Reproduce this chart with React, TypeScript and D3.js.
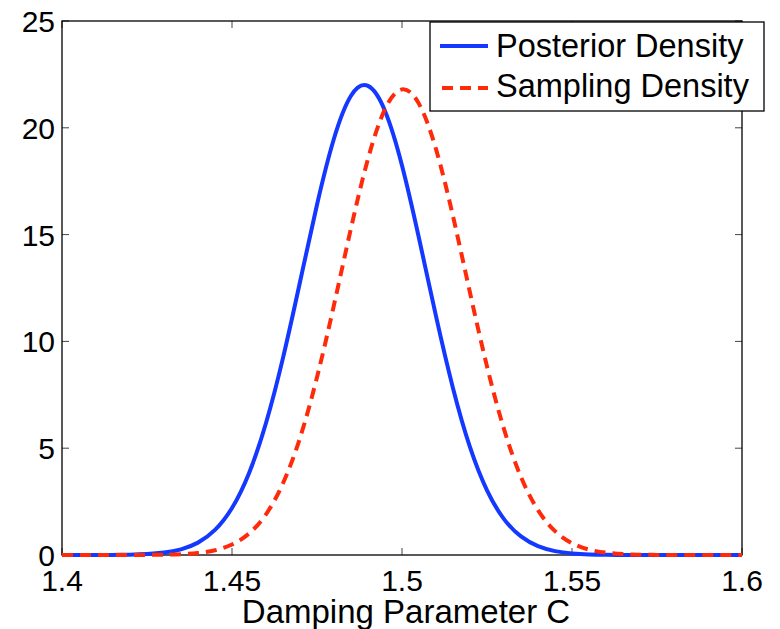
import React from "react";
import * as d3 from "d3";

const xValues: number[] = [
  1.4, 1.405, 1.41, 1.415, 1.42, 1.425, 1.43, 1.435, 1.44, 1.445, 1.45, 1.455, 1.46, 1.465,
  1.47, 1.475, 1.48, 1.485, 1.49, 1.495, 1.5, 1.505, 1.51, 1.515, 1.52, 1.525, 1.53, 1.535,
  1.54, 1.545, 1.55, 1.555, 1.56, 1.565, 1.57, 1.575, 1.58, 1.585, 1.59, 1.595, 1.6,
];

const posterior: number[] = [
  0, 0.0005, 0.0017, 0.0054, 0.016, 0.044, 0.112, 0.265, 0.579, 1.173, 2.2, 3.83, 6.18, 9.23,
  12.78, 16.4, 19.5, 21.5, 21.96, 20.79, 18.24, 14.83, 11.18, 7.81, 5.05, 3.03, 1.68, 0.868,
  0.414, 0.183, 0.075, 0.028, 0.01, 0.003, 0.001, 0, 0, 0, 0, 0, 0,
];

const sampling: number[] = [
  0, 0, 0.0001, 0.0004, 0.0014, 0.0045, 0.013, 0.037, 0.094, 0.223, 0.491, 1.004, 1.906, 3.36,
  5.48, 8.32, 11.71, 15.3, 18.55, 20.87, 21.8, 21.12, 19.0, 15.86, 12.28, 8.83, 5.89, 3.65,
  2.1, 1.118, 0.554, 0.254, 0.109, 0.043, 0.016, 0.005, 0.0017, 0.0005, 0, 0, 0,
];

const xTicks: number[] = [1.4, 1.45, 1.5, 1.55, 1.6];
const xTickLabels: string[] = ["1.4", "1.45", "1.5", "1.55", "1.6"];
const yTicks: number[] = [0, 5, 10, 15, 20, 25];
const yTickLabels: string[] = ["0", "5", "10", "15", "20", "25"];

const seriesNames: string[] = ["Posterior Density", "Sampling Density"];
const xLabel = "Damping Parameter C";

const W = 780;
const H = 629;
const L = 62;
const R = 742;
const T = 21;
const B = 555;
const FONT = "'Liberation Sans', Arial, Helvetica, sans-serif";
const BLUE = "#1438ff";
const RED = "#ff2a0a";

export default function App() {
  const x = d3.scaleLinear().domain([1.4, 1.6]).range([L, R]);
  const y = d3.scaleLinear().domain([0, 25]).range([B, T]);
  const line = d3
    .line<number>()
    .x((_, i) => x(xValues[i]))
    .y((d) => Math.min(y(d), B))
    .curve(d3.curveNatural);

  const tickLen = 7;

  return (
    <svg
      width={W}
      height={H}
      style={{ position: "absolute", left: 0, top: 0, display: "block", background: "#fff" }}
      fontFamily={FONT}
    >
      <rect x={0} y={0} width={W} height={H} fill="#fff" />
      {/* ticks */}
      {xTicks.map((t) => (
        <g key={"xt" + t}>
          <line x1={x(t)} x2={x(t)} y1={B} y2={B - tickLen} stroke="#444" strokeWidth={1} />
          <line x1={x(t)} x2={x(t)} y1={T} y2={T + tickLen} stroke="#444" strokeWidth={1} />
        </g>
      ))}
      {yTicks.map((t) => (
        <g key={"yt" + t}>
          <line x1={L} x2={L + tickLen} y1={y(t)} y2={y(t)} stroke="#444" strokeWidth={1} />
          <line x1={R} x2={R - tickLen} y1={y(t)} y2={y(t)} stroke="#444" strokeWidth={1} />
        </g>
      ))}
      {/* box */}
      <rect x={L} y={T} width={R - L} height={B - T} fill="none" stroke="#000" strokeWidth={1.3} />

      {/* curves */}
      <path d={line(posterior) ?? ""} fill="none" stroke={BLUE} strokeWidth={4} strokeLinejoin="round" />
      <path
        d={line(sampling) ?? ""}
        fill="none"
        stroke={RED}
        strokeWidth={4}
        strokeDasharray="11,7"
      />

      {/* tick labels */}
      {xTicks.map((t, i) => (
        <text key={"xl" + t} x={x(t)} y={591} textAnchor="middle" fontSize={30} fill="#000">
          {xTickLabels[i]}
        </text>
      ))}
      {yTicks.map((t, i) => (
        <text
          key={"yl" + t}
          x={55}
          y={y(t) + 11}
          textAnchor="end"
          fontSize={30}
          fill="#000"
        >
          {yTickLabels[i]}
        </text>
      ))}

      {/* x label */}
      <text x={(L + R) / 2 + 4} y={623} textAnchor="middle" fontSize={33} fill="#000">
        {xLabel}
      </text>

      {/* legend */}
      <rect x={430} y={22} width={334} height={89} fill="#fff" stroke="#000" strokeWidth={1.3} />
      <line x1={440} x2={488} y1={46} y2={46} stroke={BLUE} strokeWidth={4} />
      <line x1={442} x2={488} y1={88} y2={88} stroke={RED} strokeWidth={4} strokeDasharray="11,7" />
      <text x={496} y={57} fontSize={32.5} fill="#000">
        {seriesNames[0]}
      </text>
      <text x={496} y={97} fontSize={32.5} fill="#000">
        {seriesNames[1]}
      </text>
    </svg>
  );
}
